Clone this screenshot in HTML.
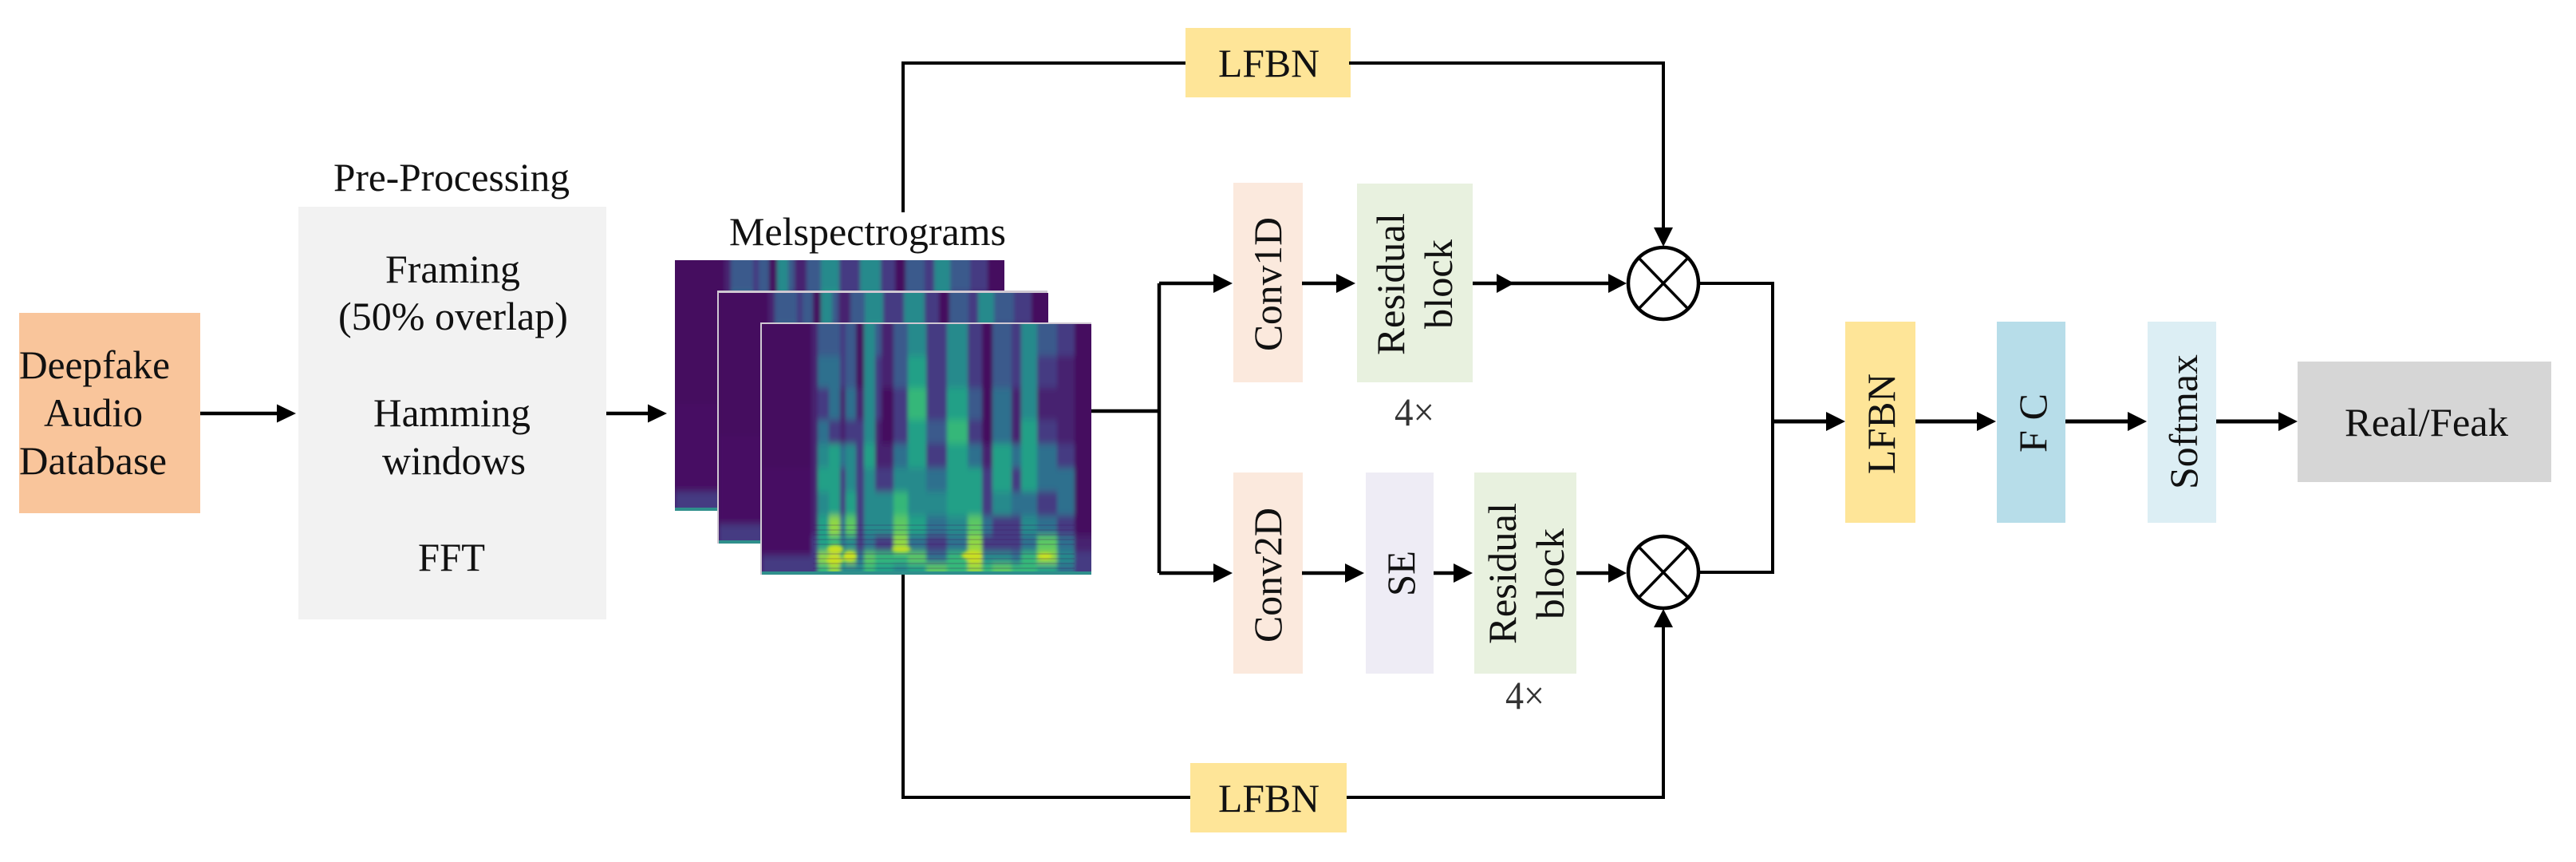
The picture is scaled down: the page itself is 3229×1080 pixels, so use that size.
<!DOCTYPE html>
<html><head><meta charset="utf-8"><title>Diagram</title>
<style>html,body{margin:0;padding:0;background:#fff}svg{display:block}
text{font-family:"Liberation Serif","Times New Roman",serif;font-size:50px;fill:#111}
.d{fill:#440a5e}.q{fill:#460f63}.p{fill:#46206f}.i{fill:#443a82}.b{fill:#3b5a8c}.c{fill:#2f6f8e}.t{fill:#258a8c}.e{fill:#22a087}.g{fill:#35b779}.l{fill:#5cc863}.m{fill:#8fd744}.y{fill:#c8e020}</style></head>
<body>
<svg xmlns="http://www.w3.org/2000/svg" width="3229" height="1080" viewBox="0 0 3229 1080">
<defs>
<filter id="b" x="-5%" y="-5%" width="110%" height="110%"><feGaussianBlur stdDeviation="2.4 4.5"/></filter>
<filter id="s" x="-30%" y="-30%" width="160%" height="160%"><feGaussianBlur stdDeviation="2"/></filter>
<clipPath id="c"><rect width="413" height="314"/></clipPath>
<g id="spec" clip-path="url(#c)">
<rect width="413" height="314" fill="#440a5e"/>
<g filter="url(#b)">
<rect class=d x=0 y=-10 width=62 height=190 /><rect class=q x=0 y=180 width=62 height=110 /><rect class=i x=0 y=290 width=62 height=30 />
<rect class=p x=62 y=-10 width=8 height=275 /><rect class=i x=62 y=265 width=8 height=55 />
<rect class=b x=70 y=-10 width=14 height=50 /><rect class=c x=70 y=40 width=14 height=40 /><rect class=i x=70 y=80 width=14 height=40 /><rect class=c x=70 y=120 width=14 height=30 /><rect class=t x=70 y=150 width=14 height=30 /><rect class=e x=70 y=180 width=14 height=30 /><rect class=t x=70 y=210 width=14 height=30 /><rect class=e x=70 y=240 width=14 height=45 /><rect class=m x=70 y=285 width=14 height=15 /><rect class=g x=70 y=300 width=14 height=20 />
<rect class=b x=84 y=-10 width=14 height=50 /><rect class=c x=84 y=40 width=14 height=80 /><rect class=i x=84 y=120 width=14 height=30 /><rect class=e x=84 y=150 width=14 height=90 /><rect class=m x=84 y=240 width=14 height=25 /><rect class=g x=84 y=265 width=14 height=20 /><rect class=y x=84 y=285 width=14 height=15 /><rect class=m x=84 y=300 width=14 height=20 />
<rect class=i x=98 y=-10 width=7 height=90 /><rect class=p x=98 y=80 width=7 height=70 /><rect class=c x=98 y=150 width=7 height=30 /><rect class=i x=98 y=180 width=7 height=60 /><rect class=c x=98 y=240 width=7 height=45 /><rect class=g x=98 y=285 width=7 height=15 /><rect class=t x=98 y=300 width=7 height=20 />
<rect class=b x=105 y=-10 width=13 height=90 /><rect class=c x=105 y=80 width=13 height=40 /><rect class=i x=105 y=120 width=13 height=30 /><rect class=t x=105 y=150 width=13 height=60 /><rect class=e x=105 y=210 width=13 height=30 /><rect class=l x=105 y=240 width=13 height=25 /><rect class=t x=105 y=265 width=13 height=20 /><rect class=m x=105 y=285 width=13 height=15 /><rect class=t x=105 y=300 width=13 height=20 />
<rect class=d x=118 y=-10 width=10 height=90 /><rect class=p x=118 y=80 width=10 height=40 /><rect class=i x=118 y=120 width=10 height=165 /><rect class=c x=118 y=285 width=10 height=15 /><rect class=t x=118 y=300 width=10 height=20 />
<rect class=t x=128 y=-10 width=14 height=160 /><rect class=e x=128 y=150 width=14 height=30 /><rect class=t x=128 y=180 width=14 height=85 /><rect class=c x=128 y=265 width=14 height=20 /><rect class=l x=128 y=285 width=14 height=15 /><rect class=g x=128 y=300 width=14 height=20 />
<rect class=b x=142 y=-10 width=8 height=50 /><rect class=i x=142 y=40 width=8 height=80 /><rect class=p x=142 y=120 width=8 height=60 /><rect class=i x=142 y=180 width=8 height=30 /><rect class=t x=142 y=210 width=8 height=55 /><rect class=i x=142 y=265 width=8 height=20 /><rect class=g x=142 y=285 width=8 height=15 /><rect class=e x=142 y=300 width=8 height=20 />
<rect class=p x=150 y=-10 width=15 height=90 /><rect class=d x=150 y=80 width=15 height=70 /><rect class=p x=150 y=150 width=15 height=30 /><rect class=i x=150 y=180 width=15 height=30 /><rect class=t x=150 y=210 width=15 height=55 /><rect class=i x=150 y=265 width=15 height=20 /><rect class=g x=150 y=285 width=15 height=15 /><rect class=e x=150 y=300 width=15 height=20 />
<rect class=b x=165 y=-10 width=18 height=90 /><rect class=i x=165 y=80 width=18 height=70 /><rect class=c x=165 y=150 width=18 height=30 /><rect class=t x=165 y=180 width=18 height=30 /><rect class=g x=165 y=210 width=18 height=30 /><rect class=l x=165 y=240 width=18 height=25 /><rect class=m x=165 y=265 width=18 height=20 /><rect class=g x=165 y=285 width=18 height=15 /><rect class=t x=165 y=300 width=18 height=20 />
<rect class=t x=183 y=-10 width=23 height=50 /><rect class=e x=183 y=40 width=23 height=40 /><rect class=g x=183 y=80 width=23 height=40 /><rect class=e x=183 y=120 width=23 height=60 /><rect class=t x=183 y=180 width=23 height=60 /><rect class=e x=183 y=240 width=23 height=25 /><rect class=c x=183 y=265 width=23 height=20 /><rect class=l x=183 y=285 width=23 height=15 /><rect class=e x=183 y=300 width=23 height=20 />
<rect class=i x=206 y=-10 width=26 height=130 /><rect class=b x=206 y=120 width=26 height=30 /><rect class=i x=206 y=150 width=26 height=30 /><rect class=c x=206 y=180 width=26 height=30 /><rect class=t x=206 y=210 width=26 height=30 /><rect class=c x=206 y=240 width=26 height=25 /><rect class=i x=206 y=265 width=26 height=20 /><rect class=c x=206 y=285 width=26 height=15 /><rect class=l x=206 y=300 width=26 height=20 />
<rect class=t x=232 y=-10 width=26 height=90 /><rect class=e x=232 y=80 width=26 height=40 /><rect class=g x=232 y=120 width=26 height=30 /><rect class=e x=232 y=150 width=26 height=90 /><rect class=t x=232 y=240 width=26 height=25 /><rect class=c x=232 y=265 width=26 height=20 /><rect class=g x=232 y=285 width=26 height=35 />
<rect class=i x=258 y=-10 width=18 height=90 /><rect class=b x=258 y=80 width=18 height=40 /><rect class=i x=258 y=120 width=18 height=30 /><rect class=c x=258 y=150 width=18 height=30 /><rect class=e x=258 y=180 width=18 height=60 /><rect class=l x=258 y=240 width=18 height=25 /><rect class=m x=258 y=265 width=18 height=20 /><rect class=y x=258 y=285 width=18 height=15 /><rect class=m x=258 y=300 width=18 height=20 />
<rect class=d x=276 y=-10 width=13 height=160 /><rect class=p x=276 y=150 width=13 height=30 /><rect class=i x=276 y=180 width=13 height=60 /><rect class=c x=276 y=240 width=13 height=25 /><rect class=i x=276 y=265 width=13 height=20 /><rect class=t x=276 y=285 width=13 height=15 /><rect class=g x=276 y=300 width=13 height=20 />
<rect class=b x=289 y=-10 width=24 height=90 /><rect class=c x=289 y=80 width=24 height=70 /><rect class=e x=289 y=150 width=24 height=60 /><rect class=t x=289 y=210 width=24 height=30 /><rect class=i x=289 y=240 width=24 height=45 /><rect class=t x=289 y=285 width=24 height=15 /><rect class=l x=289 y=300 width=24 height=20 />
<rect class=i x=313 y=-10 width=12 height=90 /><rect class=p x=313 y=80 width=12 height=70 /><rect class=c x=313 y=150 width=12 height=30 /><rect class=i x=313 y=180 width=12 height=30 /><rect class=c x=313 y=210 width=12 height=30 /><rect class=i x=313 y=240 width=12 height=45 /><rect class=c x=313 y=285 width=12 height=15 /><rect class=g x=313 y=300 width=12 height=20 />
<rect class=t x=325 y=-10 width=20 height=130 /><rect class=e x=325 y=120 width=20 height=90 /><rect class=c x=325 y=210 width=20 height=30 /><rect class=t x=325 y=240 width=20 height=25 /><rect class=c x=325 y=265 width=20 height=20 /><rect class=g x=325 y=285 width=20 height=35 />
<rect class=b x=345 y=-10 width=25 height=50 /><rect class=i x=345 y=40 width=25 height=40 /><rect class=p x=345 y=80 width=25 height=40 /><rect class=i x=345 y=120 width=25 height=30 /><rect class=c x=345 y=150 width=25 height=60 /><rect class=i x=345 y=210 width=25 height=30 /><rect class=c x=345 y=240 width=25 height=25 /><rect class=l x=345 y=265 width=25 height=20 /><rect class=m x=345 y=285 width=25 height=15 /><rect class=e x=345 y=300 width=25 height=20 />
<rect class=i x=370 y=-10 width=22 height=50 /><rect class=p x=370 y=40 width=22 height=110 /><rect class=i x=370 y=150 width=22 height=30 /><rect class=c x=370 y=180 width=22 height=60 /><rect class=i x=370 y=240 width=22 height=25 /><rect class=c x=370 y=265 width=22 height=20 /><rect class=t x=370 y=285 width=22 height=15 /><rect class=c x=370 y=300 width=22 height=20 />
<rect class=d x=392 y=-10 width=30 height=275 /><rect class=p x=392 y=265 width=30 height=20 /><rect class=i x=392 y=285 width=30 height=35 />
</g>
<g filter="url(#s)">
<ellipse cx="92" cy="282" rx="10" ry="5" class="y"/>
<ellipse cx="92" cy="296" rx="12" ry="3" class="y"/>
<ellipse cx="110" cy="291" rx="8" ry="6" class="y"/>
<ellipse cx="175" cy="282" rx="12" ry="3" class="y"/>
<ellipse cx="262" cy="290" rx="12" ry="5" class="y"/>
<ellipse cx="355" cy="291" rx="9" ry="4" class="y"/>
</g>
<path d="M64 252H392M64 258H392M64 264H392M64 270H392M64 276H392M64 288H392M64 294H392M64 300H392M64 306H392" stroke="#440a5e" stroke-opacity=".16" stroke-width="2" fill="none"/>
<rect x="0" y="310" width="413" height="4" fill="#2f8f8c"/>
</g>
</defs>

<rect x="24" y="392" width="227" height="251" fill="#F9C59B"/>
<rect x="374" y="259" width="386" height="517" fill="#F2F2F2"/>
<rect x="1486" y="35" width="207" height="87" fill="#FEE598"/>
<rect x="1492" y="956" width="196" height="87" fill="#FEE598"/>
<rect x="1546" y="229" width="87" height="250" fill="#FBE9DD"/>
<rect x="1701" y="230" width="145" height="249" fill="#E8F1DF"/>
<rect x="1546" y="592" width="87" height="252" fill="#FBE9DD"/>
<rect x="1712" y="592" width="85" height="252" fill="#EEECF5"/>
<rect x="1848" y="592" width="128" height="252" fill="#E8F1DF"/>
<rect x="2313" y="403" width="88" height="252" fill="#FEE598"/>
<rect x="2503" y="403" width="86" height="252" fill="#B7DDE9"/>
<rect x="2692" y="403" width="86" height="252" fill="#DCEEF4"/>
<rect x="2880" y="453" width="318" height="151" fill="#D6D6D6"/>

<use href="#spec" x="846" y="326"/>
<rect x="899" y="364" width="414" height="317" fill="#cfc8d2"/>
<use href="#spec" x="901" y="367"/>
<rect x="953" y="404" width="415" height="316" fill="#cfc8d2"/>
<use href="#spec" x="955" y="406"/>

<g fill="none" stroke="#000" stroke-width="4.5">
<path d="M251 518H350M760 518H815"/>
<path d="M1368 515H1453M1453 355V718M1453 355H1525M1453 718H1525"/>
<path d="M1132 266V79H1486M1691 79H2085V290" stroke-width="4"/>
<path d="M1132 720V999H1492M1688 999H2085V784" stroke-width="4"/>
<path d="M1632 355H1680M1846 355H2020M1632 718H1690M1797 718H1826M1976 718H2020"/>
<path d="M2129 355H2222M2129 717H2222M2222 353V719" stroke-width="4"/>
<path d="M2222 528H2293M2401 528H2482M2589 528H2671M2778 528H2860" stroke-width="5"/>
<ellipse cx="2085" cy="355" rx="44" ry="45"/>
<ellipse cx="2085" cy="717" rx="44" ry="45"/>
<path d="M2054 323L2116 387M2116 323L2054 387M2054 685L2116 749M2116 685L2054 749" stroke-width="3.5"/>
</g>
<g fill="#000">
<polygon points="347,506.5 371,518 347,529.5"/>
<polygon points="812,506.5 836,518 812,529.5"/>
<polygon points="1521,343 1545,355 1521,367"/>
<polygon points="1675,343 1699,355 1675,367"/>
<polygon points="1876,343 1898,355 1876,367"/>
<polygon points="2016,343 2039,355 2016,367"/>
<polygon points="1521,706 1545,718 1521,730"/>
<polygon points="1686,706 1710,718 1686,730"/>
<polygon points="1822,706 1846,718 1822,730"/>
<polygon points="2016,706 2039,718 2016,730"/>
<polygon points="2073,285 2097,285 2085,309"/>
<polygon points="2073,786 2097,786 2085,763"/>
<polygon points="2289,516 2313,528 2289,540"/>
<polygon points="2478,516 2502,528 2478,540"/>
<polygon points="2667,516 2691,528 2667,540"/>
<polygon points="2856,516 2880,528 2856,540"/>
</g>

<text x="24" y="474" textLength="189" lengthAdjust="spacingAndGlyphs">Deepfake</text>
<text x="55" y="534" textLength="124" lengthAdjust="spacingAndGlyphs">Audio</text>
<text x="24" y="594" textLength="185" lengthAdjust="spacingAndGlyphs">Database</text>
<text x="418" y="239" textLength="296" lengthAdjust="spacingAndGlyphs">Pre-Processing</text>
<text x="483" y="354" textLength="169" lengthAdjust="spacingAndGlyphs">Framing</text>
<text x="424" y="413" textLength="288" lengthAdjust="spacingAndGlyphs">(50% overlap)</text>
<text x="468" y="534" textLength="197" lengthAdjust="spacingAndGlyphs">Hamming</text>
<text x="479" y="594" textLength="180" lengthAdjust="spacingAndGlyphs">windows</text>
<text x="524" y="715" textLength="84" lengthAdjust="spacingAndGlyphs">FFT</text>
<text x="914" y="307" textLength="347" lengthAdjust="spacingAndGlyphs">Melspectrograms</text>
<text x="1527" y="96" textLength="127" lengthAdjust="spacingAndGlyphs">LFBN</text>
<text x="1527" y="1017" textLength="127" lengthAdjust="spacingAndGlyphs">LFBN</text>
<text x="1748" y="533" textLength="50" lengthAdjust="spacingAndGlyphs" style="fill:#333">4×</text>
<text x="1887" y="888" textLength="49" lengthAdjust="spacingAndGlyphs" style="fill:#333">4×</text>
<text x="2939" y="546" textLength="205" lengthAdjust="spacingAndGlyphs">Real/Feak</text>

<text transform="translate(1606,440) rotate(-90)" textLength="168" lengthAdjust="spacingAndGlyphs">Conv1D</text>
<text transform="translate(1760,445) rotate(-90)" textLength="178" lengthAdjust="spacingAndGlyphs">Residual</text>
<text transform="translate(1820,412) rotate(-90)" textLength="112" lengthAdjust="spacingAndGlyphs">block</text>
<text transform="translate(1606,805) rotate(-90)" textLength="169" lengthAdjust="spacingAndGlyphs">Conv2D</text>
<text transform="translate(1773,747) rotate(-90)" textLength="57" lengthAdjust="spacingAndGlyphs">SE</text>
<text transform="translate(1900,807) rotate(-90)" textLength="177" lengthAdjust="spacingAndGlyphs">Residual</text>
<text transform="translate(1960,776) rotate(-90)" textLength="114" lengthAdjust="spacingAndGlyphs">block</text>
<text transform="translate(2375,594) rotate(-90)" textLength="126" lengthAdjust="spacingAndGlyphs">LFBN</text>
<text transform="translate(2565,567) rotate(-90)" textLength="74" lengthAdjust="spacingAndGlyphs" xml:space="preserve">F C</text>
<text transform="translate(2754,613) rotate(-90)" textLength="169" lengthAdjust="spacingAndGlyphs">Softmax</text>
</svg>
</body></html>
